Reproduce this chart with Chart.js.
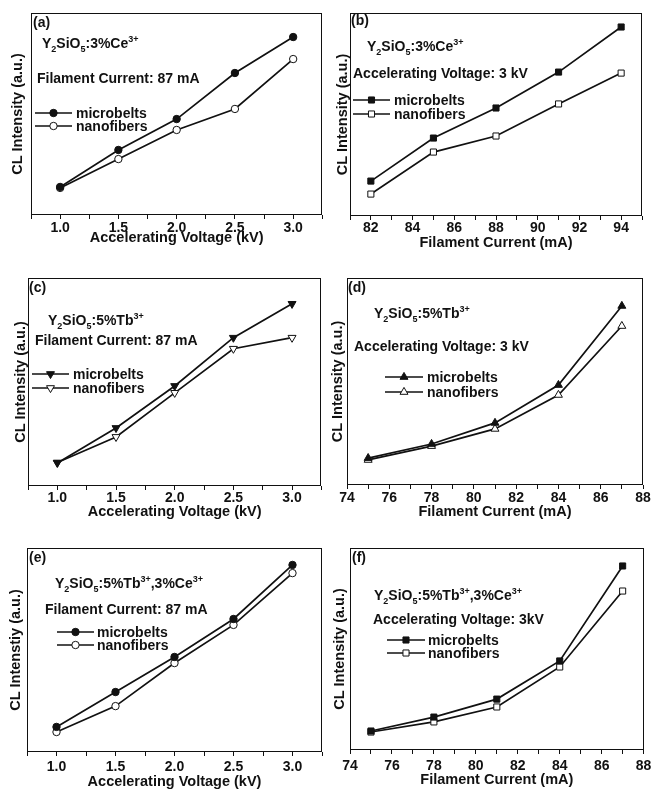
<!DOCTYPE html>
<html>
<head>
<meta charset="utf-8">
<script src="https://cdn.jsdelivr.net/npm/chart.js@4.4.0/dist/chart.umd.min.js"></script>
<style>
  body { margin: 0; background: #fff; width: 655px; height: 789px; position: relative; overflow: hidden; }
  canvas { position: absolute; }
</style>
</head>
<body>
<canvas id="pa"></canvas>
<canvas id="pb"></canvas>
<canvas id="pc"></canvas>
<canvas id="pd"></canvas>
<canvas id="pe"></canvas>
<canvas id="pf"></canvas>
<script>
// x values
const voltages = [1.0, 1.5, 2.0, 2.5, 3.0]
const currentsB = [82, 85, 88, 91, 94]
const currentsDF = [75, 78, 81, 84, 87]

// labelled ticks
const voltageLabels = [1.0, 1.5, 2.0, 2.5, 3.0]
const currentLabelsB = [82, 84, 86, 88, 90, 92, 94]
const currentLabelsDF = [74, 76, 78, 80, 82, 84, 86, 88]

// CL intensity, arbitrary units (0-100 of the frame)
const aMicro = [13.9, 32.2, 47.5, 70.3, 88.1]
const aNano  = [13.4, 27.7, 42.1, 52.5, 77.2]
const bMicro = [17.2, 38.4, 53.2, 70.9, 93.1]
const bNano  = [10.8, 31.5, 39.4, 55.2, 70.4]
const cMicro = [11.1, 27.9, 48.1, 71.3, 87.6]
const cNano  = [11.3, 23.6, 44.8, 66.0, 71.3]
const dMicro = [13.0, 19.8, 30.0, 48.3, 86.5]
const dNano  = [12.1, 18.8, 27.1, 43.5, 76.8]
const eMicro = [12.3, 29.4, 46.6, 65.2, 91.7]
const eNano  = [9.8, 22.5, 43.6, 62.3, 87.7]
const fMicro = [9.4, 16.3, 25.2, 44.1, 91.1]
const fNano  = [8.9, 13.9, 21.3, 41.1, 78.7]

const seriesNames = ['microbelts', 'nanofibers']

const FONT = "'Liberation Sans', Arial, sans-serif"
const INK = '#111'
const TICK_SIZE = 14

Chart.defaults.font.family = FONT
Chart.defaults.font.weight = 'bold'
Chart.defaults.color = INK

const notesByCanvas = {}

function drawRich(ctx, parts, x, y, size) {
    for (const [txt, kind] of parts) {
        let s = kind ? Math.round(size * 0.64) : size
        ctx.font = 'bold ' + s + 'px ' + FONT
        let dy = kind === 'sub' ? size * 0.32 : (kind === 'sup' ? -size * 0.42 : 0)
        ctx.fillText(txt, x, y + dy)
        x += ctx.measureText(txt).width
    }
}

const notesPlugin = {
    id: 'notes',
    beforeDatasetsDraw(chart) {
        // box frame
        let a = chart.chartArea
        let ctx = chart.ctx
        ctx.save()
        ctx.strokeStyle = INK
        ctx.lineWidth = 1
        ctx.strokeRect(Math.round(a.left) + 0.5, Math.round(a.top) + 0.5,
            Math.round(a.right - a.left) - 1, Math.round(a.bottom - a.top) - 1)
        ctx.restore()
    },
    afterDraw(chart) {
        let n = notesByCanvas[chart.canvas.id]
        if (!n) return
        let ctx = chart.ctx
        let ox = n.box.x, oy = n.box.y
        ctx.save()
        ctx.fillStyle = INK
        ctx.textAlign = 'left'
        ctx.textBaseline = 'alphabetic'
        ctx.font = 'bold 14px ' + FONT
        ctx.fillText(n.tag, n.tagX - ox, n.tagY - oy)
        drawRich(ctx, n.formula, n.formX - ox, n.formY - oy, 14)
        ctx.font = 'bold 14px ' + FONT
        ctx.fillText(n.cond, n.condX - ox, n.condY - oy)

        // legend: line - marker - line, then name
        chart.data.datasets.forEach((ds, i) => {
            let y = n.legY[i] - oy
            ctx.strokeStyle = INK
            ctx.lineWidth = 1.7
            ctx.beginPath()
            ctx.moveTo(n.legX0 - ox, y)
            ctx.lineTo(n.legX1 - ox, y)
            ctx.stroke()
            ctx.fillStyle = ds.pointBackgroundColor
            ctx.strokeStyle = ds.pointBorderColor
            ctx.lineWidth = 1
            Chart.helpers.drawPoint(ctx, {
                pointStyle: ds.pointStyle,
                rotation: ds.pointRotation || 0,
                radius: ds.pointRadius,
                borderWidth: 1
            }, (n.legX0 + n.legX1) / 2 - ox, y)
            ctx.fillStyle = INK
            ctx.font = 'bold 14px ' + FONT
            ctx.fillText(ds.label, n.legText - ox, y + 5)
        })
        ctx.restore()
    }
}

function tickList(min, max, step) {
    let out = []
    for (let v = min; v <= max + 1e-9; v += step) out.push(Math.round(v * 100) / 100)
    return out
}

function makePanel(p) {
    let cv = document.getElementById(p.id)
    cv.width = p.box.w
    cv.height = p.box.h
    cv.style.left = p.box.x + 'px'
    cv.style.top = p.box.y + 'px'
    notesByCanvas[p.id] = p

    let ticksAll = tickList(p.xMin, p.xMax, p.minorStep)
    let tickLen = 4
    let tickPad = p.tickY - p.area.b - tickLen - TICK_SIZE * 1.2 / 2
    let titleLH = 14.5 * 1.2

    let ds = [p.micro, p.nano].map((vals, i) => ({
        label: seriesNames[i],
        data: p.xs.map((x, k) => ({ x: x, y: vals[k] })),
        borderColor: INK,
        borderWidth: 1.7,
        pointStyle: p.marker,
        pointRotation: p.markerRot || 0,
        pointRadius: p.markerR,
        pointHoverRadius: p.markerR,
        pointBorderWidth: 1,
        pointBorderColor: INK,
        pointBackgroundColor: i === 0 ? INK : '#fff',
        tension: 0
    }))

    return new Chart(cv.getContext('2d'), {
        type: 'line',
        data: { datasets: ds },
        plugins: [notesPlugin],
        options: {
            responsive: false,
            animation: false,
            devicePixelRatio: 1,
            layout: {
                padding: {
                    left: 0,
                    top: p.area.t - p.box.y,
                    right: p.box.x + p.box.w - p.area.r,
                    bottom: 0
                }
            },
            plugins: { legend: { display: false }, tooltip: { enabled: false } },
            scales: {
                x: {
                    type: 'linear',
                    min: p.xMin,
                    max: p.xMax,
                    afterBuildTicks: s => { s.ticks = ticksAll.map(v => ({ value: v })) },
                    afterFit: s => { s.height = p.box.y + p.box.h - p.area.b },
                    ticks: {
                        autoSkip: false,
                        maxRotation: 0,
                        padding: tickPad,
                        font: { size: TICK_SIZE, weight: 'bold' },
                        color: INK,
                        callback: v => p.labels.includes(v) ? p.fmt(v) : ''
                    },
                    grid: { drawOnChartArea: false, drawTicks: true, tickLength: tickLen, color: INK, lineWidth: 1 },
                    border: { display: false },
                    title: {
                        display: true,
                        text: p.xTitle,
                        color: INK,
                        font: { size: 14.5, weight: 'bold' },
                        padding: { top: 0, bottom: p.box.y + p.box.h - p.xTitleY - titleLH / 2 }
                    }
                },
                y: {
                    min: 0,
                    max: 100,
                    ticks: { display: false },
                    grid: { display: false },
                    border: { display: false },
                    afterFit: s => { s.width = p.area.l - p.box.x },
                    title: {
                        display: true,
                        text: p.yTitle,
                        color: INK,
                        font: { size: 14.5, weight: 'bold' },
                        padding: { top: p.yTitleX - p.box.x - titleLH / 2, bottom: 0 }
                    }
                }
            }
        }
    })
}

const fmtV = v => v.toFixed(1)
const fmtI = v => String(v)
const voltTitle = 'Accelerating Voltage (kV)'
const curTitle = 'Filament Current (mA)'
const ceFormula = [['Y', ''], ['2', 'sub'], ['SiO', ''], ['5', 'sub'], [':3%Ce', ''], ['3+', 'sup']]
const tbFormula = [['Y', ''], ['2', 'sub'], ['SiO', ''], ['5', 'sub'], [':5%Tb', ''], ['3+', 'sup']]
const tbCeFormula = [['Y', ''], ['2', 'sub'], ['SiO', ''], ['5', 'sub'], [':5%Tb', ''], ['3+', 'sup'], [',3%Ce', ''], ['3+', 'sup']]

makePanel({
    id: 'pa', box: { x: 0, y: 0, w: 327, h: 255 }, area: { l: 31, t: 13, r: 323, b: 215 },
    yTitleX: 18, tickY: 228, xTitleY: 238,
    xs: voltages, micro: aMicro, nano: aNano, xMin: 0.75, xMax: 3.25, minorStep: 0.25,
    labels: voltageLabels, fmt: fmtV, xTitle: voltTitle, yTitle: 'CL Intensity (a.u.)',
    marker: 'circle', markerR: 3.7,
    tag: '(a)', tagX: 33, tagY: 27, formula: ceFormula, formX: 42, formY: 48,
    cond: 'Filament Current: 87 mA', condX: 37, condY: 83,
    legX0: 35, legX1: 72, legY: [113, 126], legText: 76
})

makePanel({
    id: 'pb', box: { x: 327, y: 0, w: 328, h: 255 }, area: { l: 350, t: 13, r: 642, b: 216 },
    yTitleX: 343, tickY: 228, xTitleY: 243,
    xs: currentsB, micro: bMicro, nano: bNano, xMin: 81, xMax: 95, minorStep: 1,
    labels: currentLabelsB, fmt: fmtI, xTitle: curTitle, yTitle: 'CL Intensity (a.u.)',
    marker: 'rect', markerR: 4.3,
    tag: '(b)', tagX: 351, tagY: 25, formula: ceFormula, formX: 367, formY: 51,
    cond: 'Accelerating Voltage: 3 kV', condX: 353, condY: 78,
    legX0: 353, legX1: 390, legY: [100, 114], legText: 394
})

makePanel({
    id: 'pc', box: { x: 0, y: 258, w: 327, h: 265 }, area: { l: 28, t: 278, r: 323, b: 486 },
    yTitleX: 21, tickY: 498, xTitleY: 512,
    xs: voltages, micro: cMicro, nano: cNano, xMin: 0.75, xMax: 3.25, minorStep: 0.25,
    labels: voltageLabels, fmt: fmtV, xTitle: voltTitle, yTitle: 'CL Intensity (a.u.)',
    marker: 'triangle', markerRot: 180, markerR: 4.6,
    tag: '(c)', tagX: 29, tagY: 292, formula: tbFormula, formX: 48, formY: 325,
    cond: 'Filament Current: 87 mA', condX: 35, condY: 345,
    legX0: 32, legX1: 69, legY: [374, 388], legText: 73
})

makePanel({
    id: 'pd', box: { x: 327, y: 258, w: 328, h: 265 }, area: { l: 347, t: 278, r: 643, b: 485 },
    yTitleX: 338, tickY: 498, xTitleY: 512,
    xs: currentsDF, micro: dMicro, nano: dNano, xMin: 74, xMax: 88, minorStep: 1,
    labels: currentLabelsDF, fmt: fmtI, xTitle: curTitle, yTitle: 'CL Intensity (a.u.)',
    marker: 'triangle', markerR: 4.6,
    tag: '(d)', tagX: 348, tagY: 292, formula: tbFormula, formX: 374, formY: 318,
    cond: 'Accelerating Voltage: 3 kV', condX: 354, condY: 351,
    legX0: 385, legX1: 423, legY: [377, 392], legText: 427
})

makePanel({
    id: 'pe', box: { x: 0, y: 528, w: 327, h: 261 }, area: { l: 27, t: 548, r: 322, b: 752 },
    yTitleX: 16, tickY: 767, xTitleY: 782,
    xs: voltages, micro: eMicro, nano: eNano, xMin: 0.75, xMax: 3.25, minorStep: 0.25,
    labels: voltageLabels, fmt: fmtV, xTitle: voltTitle, yTitle: 'CL Intenstiy (a.u.)',
    marker: 'circle', markerR: 3.7,
    tag: '(e)', tagX: 29, tagY: 562, formula: tbCeFormula, formX: 55, formY: 588,
    cond: 'Filament Current: 87 mA', condX: 45, condY: 614,
    legX0: 57, legX1: 94, legY: [632, 645], legText: 97
})

makePanel({
    id: 'pf', box: { x: 327, y: 528, w: 328, h: 261 }, area: { l: 350, t: 548, r: 645, b: 750 },
    yTitleX: 340, tickY: 766, xTitleY: 780,
    xs: currentsDF, micro: fMicro, nano: fNano, xMin: 74, xMax: 88, minorStep: 1,
    labels: currentLabelsDF, fmt: fmtI, xTitle: curTitle, yTitle: 'CL Intensity (a.u.)',
    marker: 'rect', markerR: 4.3,
    tag: '(f)', tagX: 352, tagY: 562, formula: tbCeFormula, formX: 374, formY: 600,
    cond: 'Accelerating Voltage: 3kV', condX: 373, condY: 624,
    legX0: 387, legX1: 425, legY: [640, 653], legText: 428
})
</script>
</body>
</html>
